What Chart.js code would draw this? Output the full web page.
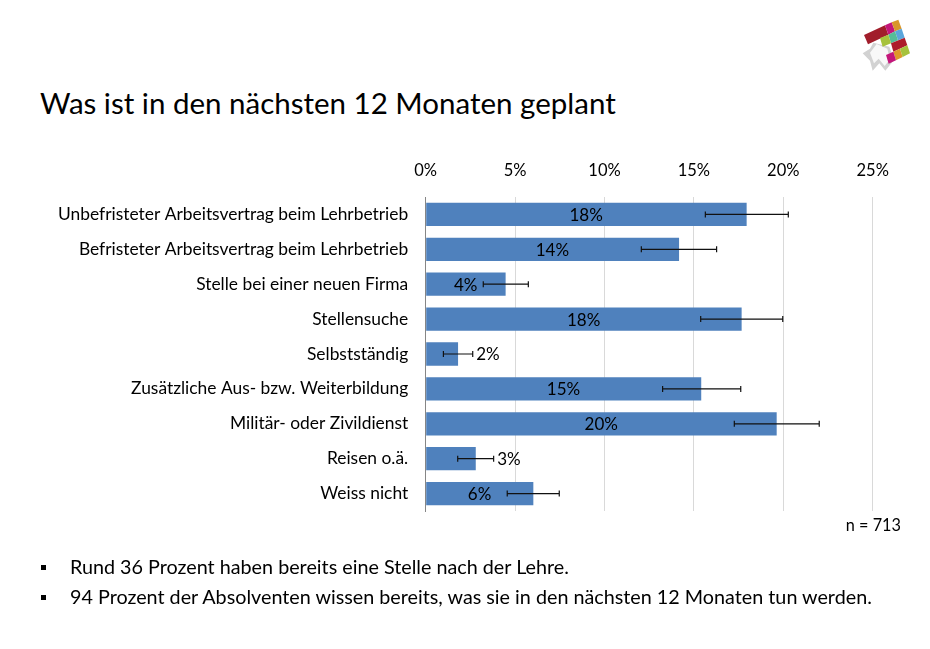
<!DOCTYPE html>
<html lang="de">
  <head>
    <meta charset="UTF-8" />
    <title>Was ist in den nächsten 12 Monaten geplant</title>
    <script src="https://cdn.jsdelivr.net/npm/chart.js@4"></script>
    <style>
      html, body { margin: 0; padding: 0; background: #fff; }
      body { width: 930px; height: 649px; position: relative; overflow: hidden; font-family: Lato, sans-serif; color: #000; }
      #chartBox { position: absolute; left: 0; top: 0; width: 930px; height: 649px; }
      h1 { position: absolute; left: 40px; top: 84px; margin: 0; font-size: 29.5px; line-height: 38px; font-weight: 400; white-space: nowrap; }
      .note { position: absolute; right: 29px; top: 515px; font-size: 16.3px; line-height: 20px; }
      ul { position: absolute; left: 40px; top: 552px; margin: 0; padding: 0; list-style: none; font-size: 19.75px; line-height: 30px; }
      li { padding-left: 30px; position: relative; white-space: nowrap; }
      li::before { content: ""; position: absolute; left: 1px; top: 13px; width: 5px; height: 5px; background: #000; }
      #logo { position: absolute; left: 850px; top: 10px; width: 70px; height: 70px; }
    </style>
  </head>
  <body>
    <h1>Was ist in den nächsten 12 Monaten geplant</h1>
    <svg id="logo" viewBox="0 0 210 210">
      <polygon points="38,130 60,116 70,98 118,110 132,150 106,182 88,160 68,182 60,152" fill="#d2d2d2" />
      <polygon points="60,128 80,102 112,116 120,148 104,168 86,146 72,160" fill="#f8f8f8" />
      <polygon points="42,75 105,46 115,74 54,103" fill="#a11d2b" />
      <polygon points="105,46 125,37 135,64 115,74" fill="#c4167a" />
      <polygon points="125,37 145,29 155,56 135,64" fill="#d9962a" />
      <polygon points="135,64 155,56 164,83 144,91" fill="#5aa6dc" />
      <polygon points="115,74 135,64 144,91 123,100" fill="#55bd98" />
      <polygon points="90,84 115,74 123,100 98,110" fill="#a6c23c" />
      <polygon points="123,100 164,83 172,106 130,125" fill="#ad1c2a" />
      <polygon points="130,125 150,116 158,141 138,151" fill="#de982a" />
      <polygon points="150,116 172,106 180,130 158,141" fill="#a6c23c" />
      <polygon points="108,135 130,125 138,151 116,161" fill="#c4167a" />
    </svg>
    <div id="chartBox"><canvas id="planChart" width="930" height="649"></canvas></div>
    <div class="note">n = 713</div>
    <ul>
      <li>Rund 36 Prozent haben bereits eine Stelle nach der Lehre.</li>
      <li>94 Prozent der Absolventen wissen bereits, was sie in den nächsten 12 Monaten tun werden.</li>
    </ul>
    <script>
      const categories = [
        "Unbefristeter Arbeitsvertrag beim Lehrbetrieb",
        "Befristeter Arbeitsvertrag beim Lehrbetrieb",
        "Stelle bei einer neuen Firma",
        "Stellensuche",
        "Selbstständig",
        "Zusätzliche Aus- bzw. Weiterbildung",
        "Militär- oder Zivildienst",
        "Reisen o.ä.",
        "Weiss nicht",
      ];
      const values = [17.95, 14.17, 4.47, 17.67, 1.81, 15.41, 19.63, 2.8, 6.02];
      const errLow = [15.64, 12.06, 3.22, 15.38, 0.99, 13.25, 17.26, 1.79, 4.56];
      const errHigh = [20.28, 16.27, 5.74, 19.97, 2.63, 17.62, 22.01, 3.8, 7.47];
      const valueLabels = ["18%", "14%", "4%", "18%", "2%", "15%", "20%", "3%", "6%"];

      const fontFamily = "Lato, sans-serif";

      // error bars and the % labels are drawn after the bars
      const barExtras = {
        id: "barExtras",
        afterDatasetsDraw(chart) {
          const ctx = chart.ctx;
          const x = chart.scales.x;
          const y = chart.scales.y;
          ctx.save();
          ctx.strokeStyle = "#111";
          ctx.lineWidth = 1.2;
          categories.forEach(function (name, i) {
            const cy = y.getPixelForValue(i);
            const x1 = x.getPixelForValue(errLow[i]);
            const x2 = x.getPixelForValue(errHigh[i]);
            ctx.beginPath();
            ctx.moveTo(x1, cy);
            ctx.lineTo(x2, cy);
            ctx.moveTo(x1, cy - 3);
            ctx.lineTo(x1, cy + 3);
            ctx.moveTo(x2, cy - 3);
            ctx.lineTo(x2, cy + 3);
            ctx.stroke();
          });
          ctx.fillStyle = "#000";
          ctx.font = "17px " + fontFamily;
          ctx.textBaseline = "middle";
          categories.forEach(function (name, i) {
            const cy = y.getPixelForValue(i) + 1;
            // small bars have no room, label goes behind the error bar
            if (values[i] < 3) {
              ctx.textAlign = "left";
              ctx.fillText(valueLabels[i], x.getPixelForValue(errHigh[i]) + 3.5, cy);
            } else {
              ctx.textAlign = "center";
              ctx.fillText(valueLabels[i], x.getPixelForValue(values[i] / 2), cy);
            }
          });
          ctx.restore();
        },
      };

      new Chart(document.getElementById("planChart"), {
        type: "bar",
        data: {
          labels: categories,
          datasets: [
            {
              data: values,
              backgroundColor: "#4f81bd",
              barPercentage: 0.667,
              categoryPercentage: 1,
            },
          ],
        },
        plugins: [barExtras],
        options: {
          indexAxis: "y",
          responsive: false,
          animation: false,
          layout: { padding: { top: 0, left: 0, right: 57.3, bottom: 138 } },
          plugins: { legend: { display: false }, tooltip: { enabled: false } },
          scales: {
            x: {
              position: "top",
              min: 0,
              max: 25,
              afterFit(scale) {
                scale.height = 197;
              },
              border: { display: false },
              grid: { color: "#d9d9d9", lineWidth: 1, drawTicks: false },
              ticks: {
                stepSize: 5,
                padding: 16,
                maxRotation: 0,
                color: "#000",
                font: { family: fontFamily, size: 16.5 },
                callback: function (v) {
                  return v + "%";
                },
              },
            },
            y: {
              afterFit(scale) {
                scale.width = 425.7;
              },
              border: { color: "#868686", width: 1 },
              grid: { display: false, drawTicks: false },
              ticks: {
                padding: 17.5,
                autoSkip: false,
                color: "#000",
                font: { family: fontFamily, size: 17.4 },
              },
            },
          },
        },
      });
    </script>
  </body>
</html>
